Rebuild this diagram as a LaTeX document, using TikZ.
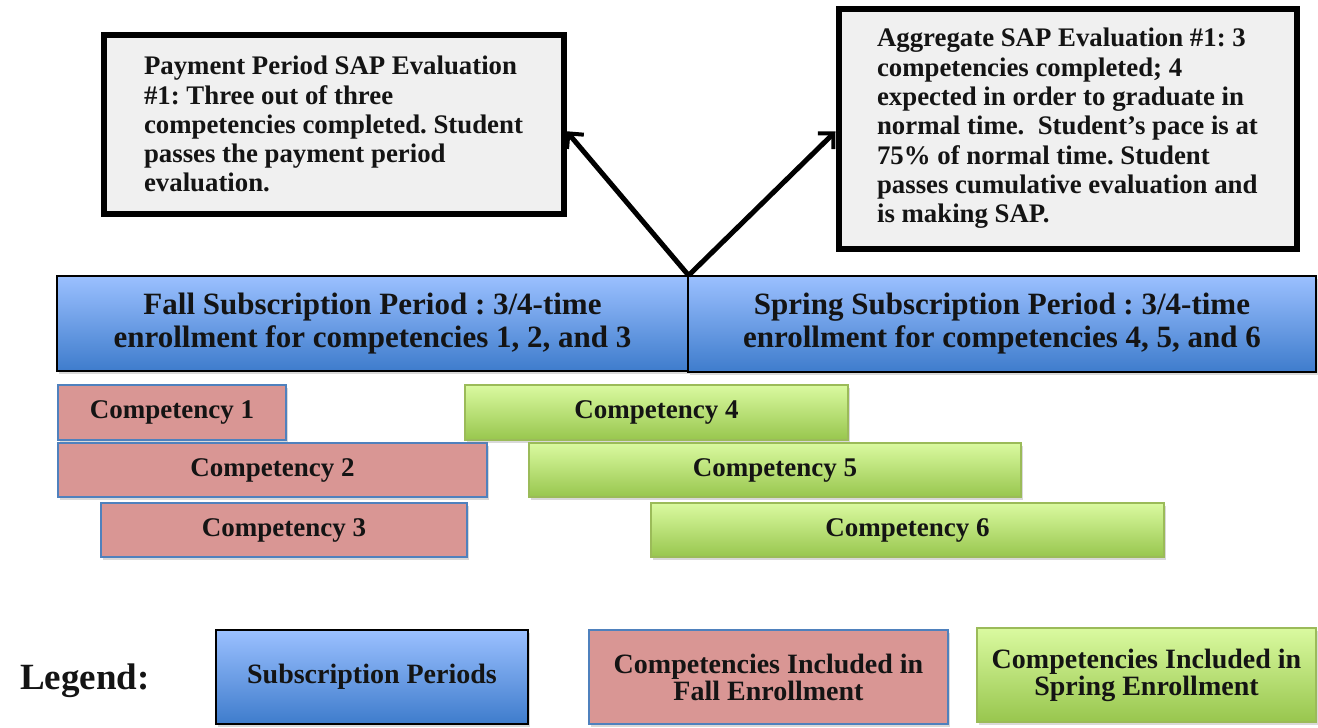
\documentclass[tikz,border=0pt]{standalone}
\usepackage{fontspec}
\setmainfont{Liberation Serif}
\newfontfamily\legfont{Liberation Serif}
\usetikzlibrary{arrows.meta,shadows}
\frenchspacing
\definecolor{evalfill}{HTML}{F0F0F0}
\definecolor{bluetop}{RGB}{155,192,255}
\definecolor{bluebot}{RGB}{62,124,204}
\definecolor{redfill}{RGB}{217,150,148}
\definecolor{redborder}{RGB}{79,129,189}
\definecolor{greentop}{RGB}{218,250,160}
\definecolor{greenbot}{RGB}{152,198,78}
\definecolor{greenborder}{RGB}{155,187,89}
\definecolor{txt}{RGB}{20,20,20}
\begin{document}
\begin{tikzpicture}[x=1pt,y=-1pt,
  evalbox/.style={draw=black, line width=6pt, fill=evalfill, align=left, inner sep=0pt, text=txt,
    font=\frenchspacing\bfseries\fontsize{26.8}{29.3}\selectfont},
  shade/.style={drop shadow={shadow xshift=2pt, shadow yshift=-3pt, opacity=0.3}},
  periodbox/.style={draw=black, line width=1.2pt, top color=bluetop, bottom color=bluebot, shade,
    align=center, inner sep=0pt, text=txt, font=\bfseries\fontsize{31}{33}\selectfont},
  fallcomp/.style={draw=redborder, line width=1.5pt, fill=redfill, shade,
    align=center, inner sep=0pt, text=txt, font=\bfseries\fontsize{27}{28}\selectfont},
  springcomp/.style={draw=greenborder, line width=1.5pt, top color=greentop, bottom color=greenbot, shade,
    align=center, inner sep=0pt, text=txt, font=\bfseries\fontsize{27}{28}\selectfont},
  legtext/.style={font=\bfseries\fontsize{28}{27}\selectfont},
  arrowline/.style={line width=5pt, -{Straight Barb[length=11pt,width=22pt,line width=4pt]}}
]
\useasboundingbox (0,0) rectangle (1318,728);

% evaluation boxes
\node[evalbox, minimum width=460pt, minimum height=178.5pt] (evalL) at (333.5,124.25)
  {Payment Period SAP Evaluation\\ \#1: Three out of three\\ competencies completed. Student\\ passes the payment period\\ evaluation.};
\node[evalbox, minimum width=458pt, minimum height=240pt] (evalR) at (1067.5,128.5)
  {Aggregate SAP Evaluation \#1: 3\\ competencies completed; 4\\ expected in order to graduate in\\ normal time.\ \ Student's pace is at\\ 75\% of normal time. Student\\ passes cumulative evaluation and\\ is making SAP.};

% subscription periods
\node[periodbox, minimum width=631pt, minimum height=95pt] (fall) at (372.5,323.5)
  {Fall Subscription Period : 3/4-time\\ enrollment for competencies 1, 2, and 3};
\node[periodbox, minimum width=628pt, minimum height=96pt] (spring) at (1002,324)
  {Spring Subscription Period : 3/4-time\\ enrollment for competencies 4, 5, and 6};

% arrows
\draw[arrowline] (fall.north east) -- ([yshift=-7pt]evalL.east);
\draw[arrowline] (fall.north east) -- ([yshift=-3pt]evalR.west);

% competencies
\node[fallcomp, minimum width=228pt, minimum height=55pt] (c1) at (172,412.5) {Competency 1};
\node[fallcomp, minimum width=429pt, minimum height=54pt] (c2) at (272.5,470) {Competency 2};
\node[fallcomp, minimum width=366pt, minimum height=54pt] (c3) at (284,530) {Competency 3};
\node[springcomp, minimum width=383pt, minimum height=55pt] (c4) at (656.5,412.5) {Competency 4};
\node[springcomp, minimum width=492pt, minimum height=54pt] (c5) at (775,470) {Competency 5};
\node[springcomp, minimum width=513pt, minimum height=54pt] (c6) at (907.5,530) {Competency 6};

% legend
\node[font=\legfont\bfseries\fontsize{37}{40}\selectfont, text=txt] (leg) at (85,681) {Legend:};
\node[periodbox, legtext, minimum width=312pt, minimum height=94pt] (l1) at (372,677) {Subscription Periods};
\node[fallcomp, legtext, minimum width=359pt, minimum height=94pt] (l2) at (768.5,677) {Competencies Included in\\ Fall Enrollment};
\node[springcomp, legtext, minimum width=339pt, minimum height=94pt] (l3) at (1146.5,675) {Competencies Included in\\ Spring Enrollment};
\end{tikzpicture}
\end{document}
